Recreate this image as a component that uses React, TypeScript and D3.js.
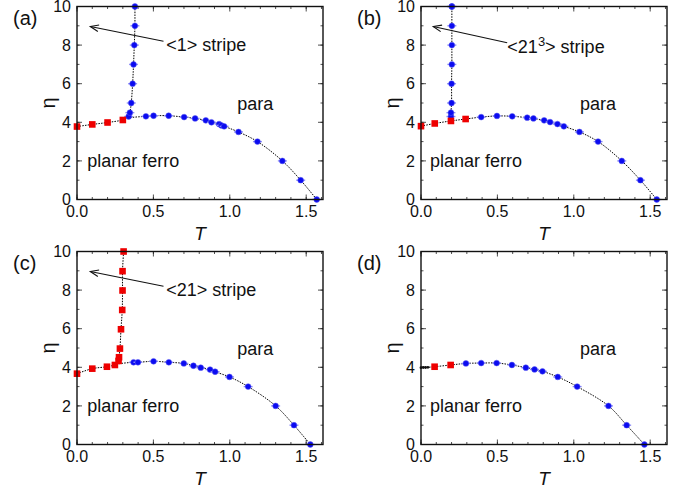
import React from "react";
import * as d3 from "d3";

// ---------- data ----------
// Panel (a) <1> stripe
const aRedT = [0, 0.1, 0.2, 0.3];
const aRedEta = [3.78, 3.89, 3.99, 4.12];
const aVertT = [0.338, 0.346, 0.355, 0.364, 0.37, 0.375, 0.379, 0.379];
const aVertEta = [4.3, 4.5, 5, 6, 7, 8, 9, 10];
const aBlueT = [0.451, 0.501, 0.6, 0.701, 0.773, 0.843, 0.88, 0.93, 0.945, 0.963, 1.057, 1.181, 1.344, 1.464, 1.569];
const aBlueEta = [4.31, 4.34, 4.34, 4.27, 4.2, 4.1, 4.0, 3.91, 3.84, 3.79, 3.5, 3.0, 2.0, 1.0, 0];
const aJunction = [0.333, 4.22];

// Panel (b) <21^3> stripe
const bRedT = [0, 0.09, 0.196, 0.292];
const bRedEta = [3.8, 3.94, 4.07, 4.17];
const bVertT = [0.196, 0.196, 0.2, 0.2, 0.202, 0.202, 0.202, 0.202, 0.202];
const bVertEta = [4.3, 4.5, 5, 6, 7, 8, 9, 10, 10];
const bBlueT = [0.394, 0.497, 0.597, 0.695, 0.736, 0.806, 0.845, 0.893, 0.935, 1.037, 1.159, 1.314, 1.436, 1.543];
const bBlueEta = [4.27, 4.33, 4.31, 4.24, 4.2, 4.1, 4.01, 3.91, 3.79, 3.5, 3.0, 2.0, 1.0, 0];
const bJunction = [0.196, 4.1];

// Panel (c) <21> stripe
const cRedT = [0, 0.1, 0.196, 0.248, 0.272, 0.275, 0.281, 0.288, 0.296, 0.298, 0.298, 0.305];
const cRedEta = [3.67, 3.93, 4.03, 4.12, 4.33, 4.52, 4.97, 5.97, 6.97, 7.98, 8.98, 10];
const cVertStart = 4; // index where vertical red branch begins
const cBlueT = [0.37, 0.399, 0.501, 0.601, 0.699, 0.762, 0.81, 0.871, 0.904, 0.998, 1.12, 1.3, 1.42, 1.527];
const cBlueEta = [4.26, 4.26, 4.31, 4.26, 4.2, 4.08, 3.98, 3.88, 3.77, 3.5, 3.0, 2.0, 1.0, 0];
const cJunction = [0.265, 4.17];

// Panel (d) no stripe
const dSmallT = [0, 0.015, 0.03, 0.045];
const dSmallEta = [3.98, 3.99, 3.99, 4.0];
const dRedT = [0.089, 0.194];
const dRedEta = [4.03, 4.12];
const dBlueT = [0.294, 0.394, 0.495, 0.595, 0.686, 0.743, 0.795, 0.895, 1.022, 1.227, 1.346, 1.462];
const dBlueEta = [4.2, 4.22, 4.22, 4.12, 3.98, 3.89, 3.79, 3.5, 3.0, 2.0, 1.0, 0];

const xTicks = [0, 0.5, 1.0, 1.5];
const yTicks = [0, 2, 4, 6, 8, 10];
const xDomain = [0, 1.61];
const yDomain = [0, 10];

type Pt = [number, number];
const zip = (t: number[], e: number[]): Pt[] => t.map((v, i) => [v, e[i]] as Pt);

interface PanelDef {
  label: string;
  left: number;
  top: number;
  red: Pt[];
  blue: Pt[];
  small: Pt[];
  mainLine: Pt[];
  vertLine: Pt[];
  stripe: React.ReactNode | null;
  arrow: [number, number, number, number] | null;
  stripePos: Pt;
  paraPos: Pt;
  ferroPos: Pt;
}

const W = 246;
const H = 193;
const FONT = "'Liberation Sans', Arial, Helvetica, sans-serif";

const panels: PanelDef[] = [
  {
    label: "(a)",
    left: 77,
    top: 6.5,
    red: zip(aRedT, aRedEta),
    blue: [...zip(aVertT, aVertEta), ...zip(aBlueT, aBlueEta)],
    small: [],
    mainLine: [...zip(aRedT, aRedEta), aJunction as Pt, ...zip(aBlueT, aBlueEta)],
    vertLine: [aJunction as Pt, ...zip(aVertT, aVertEta)],
    stripe: <>&lt;1&gt; stripe</>,
    arrow: [0.566, 8.2, 0.087, 8.96],
    stripePos: [0.584, 7.68],
    paraPos: [1.048, 4.62],
    ferroPos: [0.067, 1.68],
  },
  {
    label: "(b)",
    left: 421,
    top: 6.5,
    red: zip(bRedT, bRedEta),
    blue: [...zip(bVertT, bVertEta), ...zip(bBlueT, bBlueEta)],
    small: [],
    mainLine: [...zip(bRedT, bRedEta), ...zip(bBlueT, bBlueEta)],
    vertLine: [bJunction as Pt, ...zip(bVertT, bVertEta)],
    stripe: (
      <>
        &lt;21<tspan dy={-7} fontSize={13}>3</tspan>
        <tspan dy={7}>&gt; stripe</tspan>
      </>
    ),
    arrow: [0.564, 8.12, 0.08, 8.96],
    stripePos: [0.565, 7.6],
    paraPos: [1.04, 4.62],
    ferroPos: [0.059, 1.68],
  },
  {
    label: "(c)",
    left: 77,
    top: 251.5,
    red: zip(cRedT, cRedEta),
    blue: zip(cBlueT, cBlueEta),
    small: [],
    mainLine: [...zip(cRedT.slice(0, cVertStart), cRedEta.slice(0, cVertStart)), cJunction as Pt, ...zip(cBlueT, cBlueEta)],
    vertLine: [cJunction as Pt, ...zip(cRedT.slice(cVertStart), cRedEta.slice(cVertStart))],
    stripe: <>&lt;21&gt; stripe</>,
    arrow: [0.566, 8.2, 0.087, 8.96],
    stripePos: [0.584, 7.68],
    paraPos: [1.048, 4.62],
    ferroPos: [0.067, 1.68],
  },
  {
    label: "(d)",
    left: 421,
    top: 251.5,
    red: zip(dRedT, dRedEta),
    blue: zip(dBlueT, dBlueEta),
    small: zip(dSmallT, dSmallEta),
    mainLine: [...zip(dSmallT, dSmallEta), ...zip(dRedT, dRedEta), ...zip(dBlueT, dBlueEta)],
    vertLine: [],
    stripe: null,
    arrow: null,
    stripePos: [0, 0],
    paraPos: [1.04, 4.62],
    ferroPos: [0.059, 1.68],
  },
];

function Panel({ p }: { p: PanelDef }) {
  const x = d3.scaleLinear().domain(xDomain).range([0, W]);
  const y = d3.scaleLinear().domain(yDomain).range([H, 0]);
  const line = d3
    .line<Pt>()
    .x((d) => x(d[0]))
    .y((d) => y(d[1]))
    .curve(d3.curveCatmullRom.alpha(0.5));

  const xMinor = d3.range(0, 1.61, 0.1).map((v) => +v.toFixed(2));
  const yMinor = d3.range(0, 10.01, 1);

  let arrowEl: React.ReactNode = null;
  if (p.arrow) {
    const [t0, e0, t1, e1] = p.arrow;
    const x0 = x(t0), y0 = y(e0), x1 = x(t1), y1 = y(e1);
    const ang = Math.atan2(y0 - y1, x0 - x1);
    const L = 9, a = 0.38;
    const hx1 = x1 + L * Math.cos(ang + a), hy1 = y1 + L * Math.sin(ang + a);
    const hx2 = x1 + L * Math.cos(ang - a), hy2 = y1 + L * Math.sin(ang - a);
    arrowEl = (
      <g stroke="#111" strokeWidth={1.1} fill="none">
        <line x1={x0} y1={y0} x2={x1} y2={y1} />
        <polyline points={`${hx1},${hy1} ${x1},${y1} ${hx2},${hy2}`} />
      </g>
    );
  }

  return (
    <g transform={`translate(${p.left},${p.top})`} fontFamily={FONT}>
      {/* minor ticks */}
      <g stroke="#222" strokeWidth={0.8}>
        {xMinor.map((v, i) => (
          <g key={"xm" + i}>
            <line x1={x(v)} x2={x(v)} y1={H} y2={H - 2.5} />
            <line x1={x(v)} x2={x(v)} y1={0} y2={2.5} />
          </g>
        ))}
        {yMinor.map((v, i) => (
          <g key={"ym" + i}>
            <line x1={0} x2={2.5} y1={y(v)} y2={y(v)} />
            <line x1={W} x2={W - 2.5} y1={y(v)} y2={y(v)} />
          </g>
        ))}
        {xTicks.map((v, i) => (
          <g key={"xM" + i}>
            <line x1={x(v)} x2={x(v)} y1={H} y2={H - 5} />
            <line x1={x(v)} x2={x(v)} y1={0} y2={5} />
          </g>
        ))}
        {yTicks.map((v, i) => (
          <g key={"yM" + i}>
            <line x1={0} x2={5} y1={y(v)} y2={y(v)} />
            <line x1={W} x2={W - 5} y1={y(v)} y2={y(v)} />
          </g>
        ))}
      </g>
      {/* lines */}
      <path d={line(p.mainLine) || ""} fill="none" stroke="#000" strokeWidth={1} strokeDasharray="1.5,1.2" />
      {p.vertLine.length > 0 && (
        <path d={line(p.vertLine) || ""} fill="none" stroke="#000" strokeWidth={1} strokeDasharray="1.5,1.2" />
      )}
      {/* markers */}
      {p.small.map((d, i) => (
        <circle key={"s" + i} cx={x(d[0])} cy={y(d[1])} r={1.4} fill="#111" />
      ))}
      {p.blue.map((d, i) => (
        <g key={"b" + i}>
          <line x1={x(d[0]) - 4.5} x2={x(d[0]) + 4.5} y1={y(d[1])} y2={y(d[1])} stroke="#8f8ff6" strokeWidth={1.4} />
          <circle cx={x(d[0])} cy={y(d[1])} r={2.9} fill="#0b0bf0" stroke="#5a5af2" strokeWidth={0.5} />
        </g>
      ))}
      {p.red.map((d, i) => (
        <rect key={"r" + i} x={x(d[0]) - 3.3} y={y(d[1]) - 3.3} width={6.6} height={6.6} fill="#ee0000" />
      ))}
      {/* frame */}
      <rect x={0} y={0} width={W} height={H} fill="none" stroke="#111" strokeWidth={1.4} />
      {/* tick labels */}
      <g fontSize={16} fill="#111">
        {xTicks.map((v, i) => (
          <text key={"xl" + i} x={x(v)} y={H + 17} textAnchor="middle">
            {v.toFixed(1)}
          </text>
        ))}
        {yTicks.map((v, i) => (
          <text key={"yl" + i} x={-6} y={y(v) + 5.6} textAnchor="end">
            {v}
          </text>
        ))}
      </g>
      {/* axis titles */}
      <text x={W / 2} y={H + 40} textAnchor="middle" fontSize={19} fontStyle="italic" fill="#111">
        T
      </text>
      <text transform={`translate(${-22},${H / 2}) rotate(-90)`} textAnchor="middle" fontSize={20} fill="#111">
        η
      </text>
      <text x={-64} y={18} fontSize={20} fill="#111">
        {p.label}
      </text>
      {/* annotations */}
      {arrowEl}
      {p.stripe && (
        <text x={x(p.stripePos[0])} y={y(p.stripePos[1])} fontSize={18} fill="#111">
          {p.stripe}
        </text>
      )}
      <text x={x(p.paraPos[0])} y={y(p.paraPos[1])} fontSize={18} fill="#111">
        para
      </text>
      <text x={x(p.ferroPos[0])} y={y(p.ferroPos[1])} fontSize={18} fill="#111">
        planar ferro
      </text>
    </g>
  );
}

export default function App() {
  return (
    <svg
      width={693}
      height={489}
      style={{ position: "absolute", left: 0, top: 0, background: "#fff" }}
    >
      <rect width={693} height={489} fill="#fff" />
      {panels.map((p, i) => (
        <Panel key={i} p={p} />
      ))}
    </svg>
  );
}
